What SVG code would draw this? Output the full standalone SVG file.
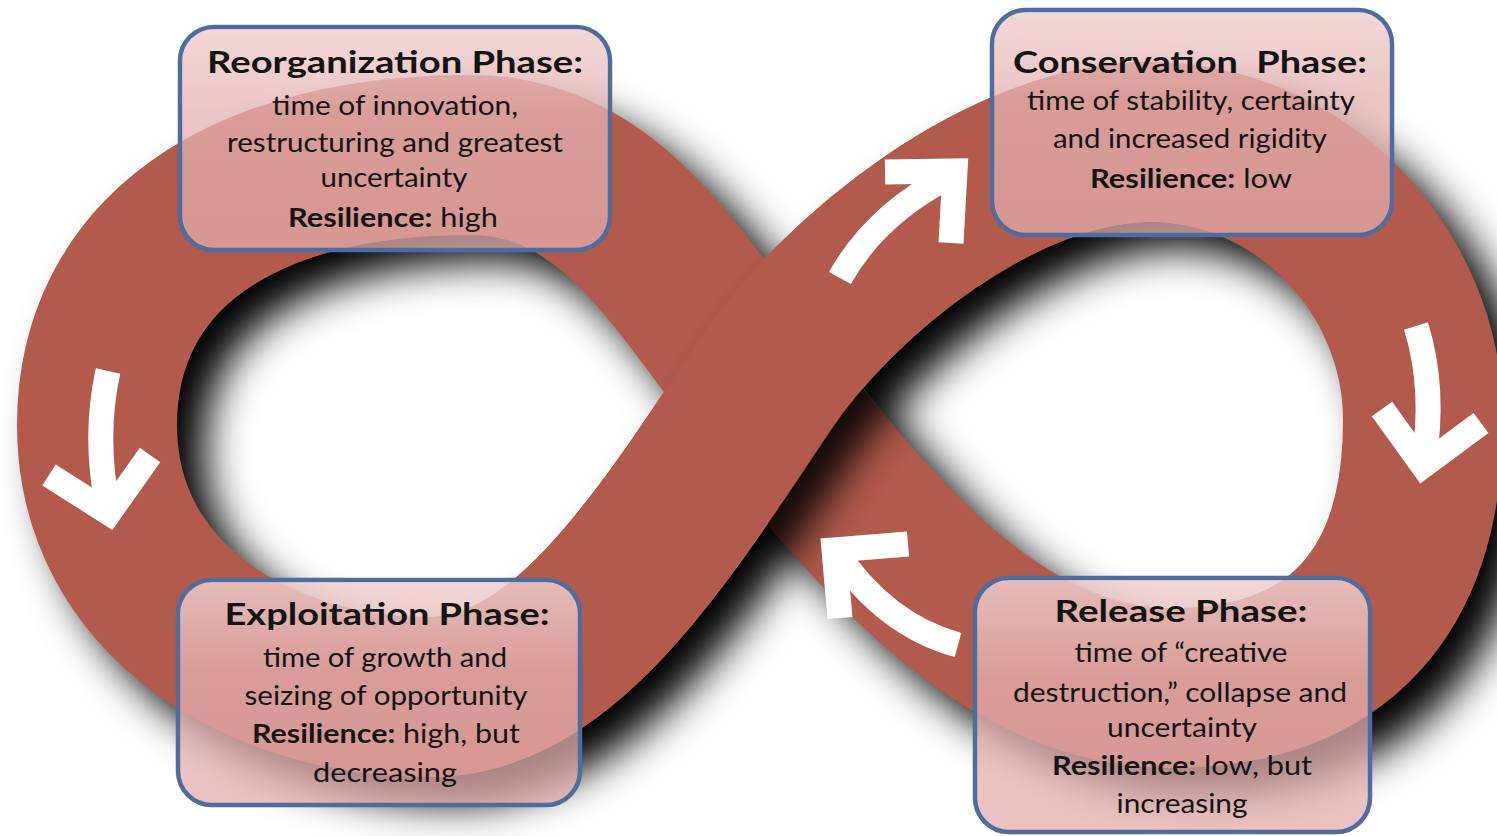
<svg xmlns="http://www.w3.org/2000/svg" width="1497" height="836" viewBox="0 0 1497 836">
<style>
.band{fill:none;stroke:#B25A4C;stroke-width:160;stroke-linejoin:round}
.box{fill:#E4ADAD;fill-opacity:0.74;stroke:#4E6C9E;stroke-width:4.5}
.gloss{fill:url(#gloss)}
text{font-family:Lato,"Liberation Sans",sans-serif;fill:#141414;text-anchor:middle}
.t{font-size:30px;font-weight:700}
.b{font-size:26px}
.bold{font-weight:700}
.arrow{fill:none;stroke:#fff;stroke-width:25;stroke-linejoin:miter;stroke-miterlimit:10}
</style>
<defs>
<path id="loopPath" d="M762 389 C839 273 1005 142 1150 142 C1300 142 1423 270 1423 420 C1423 590 1340 688 1170 688 C990 688 855 507.5 762 389 C675 278.4 610 155 470 155 C240 155 97 255 97 425 C97 600 260 697 430 697 C560 697 657.5 546.7 762 389 Z"/>
<path id="frontPath" d="M430 697 C560 697 657.5 546.7 762 389 C839 273 1005 142 1150 142"/>
<path id="backPath" d="M1170 688 C990 688 855 507.5 762 389 C675 278.4 610 155 470 155"/>
<filter id="dropShadow" filterUnits="userSpaceOnUse" x="-100" y="-100" width="1700" height="1050" color-interpolation-filters="sRGB">
<feGaussianBlur in="SourceAlpha" stdDeviation="21"/>
<feOffset dx="28" dy="26"/>
<feComponentTransfer><feFuncA type="linear" slope="1"/></feComponentTransfer>
<feMerge><feMergeNode/><feMergeNode in="SourceGraphic"/></feMerge>
</filter>
<filter id="castShadow" filterUnits="userSpaceOnUse" x="-100" y="-100" width="1700" height="1050" color-interpolation-filters="sRGB">
<feGaussianBlur in="SourceAlpha" stdDeviation="19"/>
<feOffset dx="26" dy="24"/>
<feComponentTransfer><feFuncA type="linear" slope="0.9"/></feComponentTransfer>
</filter>
<mask id="backMask" maskUnits="userSpaceOnUse" x="0" y="0" width="1497" height="836">
<use href="#backPath" fill="none" stroke="#fff" stroke-width="160"/>
</mask>
<linearGradient id="gloss" x1="0" y1="0" x2="0" y2="1">
<stop offset="0" stop-color="#fff" stop-opacity="0.35"/>
<stop offset="0.4" stop-color="#fff" stop-opacity="0.05"/>
<stop offset="1" stop-color="#fff" stop-opacity="0"/>
</linearGradient>
</defs>
<rect width="1497" height="836" fill="#fff"/>
<g id="band">
<use href="#loopPath" class="band" filter="url(#dropShadow)"/>
<g mask="url(#backMask)"><use href="#frontPath" class="band" filter="url(#castShadow)"/></g>
<use href="#frontPath" class="band"/>
</g>
<g id="connectors">
<g id="arrow-left"><path class="arrow" d="M108 371 Q93 440 109 512"/><path class="arrow" d="M49 475 L109 513 L150 455"/></g>
<g id="arrow-top"><path class="arrow" d="M840 278 Q875 215 950 176"/><path class="arrow" d="M885 172 L955 171 L951 243"/></g>
<g id="arrow-right"><path class="arrow" d="M1416 326 Q1436 390 1423 466"/><path class="arrow" d="M1382 409 L1423 466 L1481 423"/></g>
<g id="arrow-bottom"><path class="arrow" d="M958 645 Q885 625 836 552"/><path class="arrow" d="M908 544 L834 550 L840 618"/></g>
</g>
<g id="reorganization">
<rect class="box" x="180" y="27" width="430" height="223" rx="34"/>
<rect class="gloss" x="182" y="29" width="426" height="219" rx="32"/>
<text class="t" x="395" y="73" textLength="376" lengthAdjust="spacingAndGlyphs">Reorganization Phase:</text>
<text class="b" x="395" y="115" textLength="246" lengthAdjust="spacingAndGlyphs">time of innovation,</text>
<text class="b" x="395" y="152" textLength="336" lengthAdjust="spacingAndGlyphs">restructuring and greatest</text>
<text class="b" x="394" y="187" textLength="147" lengthAdjust="spacingAndGlyphs">uncertainty</text>
<text class="b" x="393" y="227" textLength="210" lengthAdjust="spacingAndGlyphs"><tspan class="bold">Resilience:</tspan> high</text>
</g>
<g id="conservation">
<rect class="box" x="992" y="10" width="400" height="225" rx="34"/>
<rect class="gloss" x="994" y="12" width="396" height="221" rx="32"/>
<text class="t" x="1190" y="73" textLength="354" lengthAdjust="spacingAndGlyphs" xml:space="preserve">Conservation  Phase:</text>
<text class="b" x="1191" y="110" textLength="328" lengthAdjust="spacingAndGlyphs">time of stability, certainty</text>
<text class="b" x="1190" y="148" textLength="274" lengthAdjust="spacingAndGlyphs">and increased rigidity</text>
<text class="b" x="1191" y="188" textLength="202" lengthAdjust="spacingAndGlyphs"><tspan class="bold">Resilience:</tspan> low</text>
</g>
<g id="exploitation">
<rect class="box" x="178" y="580" width="402" height="225" rx="34"/>
<rect class="gloss" x="180" y="582" width="398" height="221" rx="32"/>
<text class="t" x="387" y="625" textLength="325" lengthAdjust="spacingAndGlyphs">Exploitation Phase:</text>
<text class="b" x="385" y="667" textLength="244" lengthAdjust="spacingAndGlyphs">time of growth and</text>
<text class="b" x="386" y="705" textLength="283" lengthAdjust="spacingAndGlyphs">seizing of opportunity</text>
<text class="b" x="386" y="743" textLength="268" lengthAdjust="spacingAndGlyphs"><tspan class="bold">Resilience:</tspan> high, but</text>
<text class="b" x="385" y="782" textLength="144" lengthAdjust="spacingAndGlyphs">decreasing</text>
</g>
<g id="release">
<rect class="box" x="975" y="578" width="395" height="254" rx="34"/>
<rect class="gloss" x="977" y="580" width="391" height="250" rx="32"/>
<text class="t" x="1181" y="622" textLength="253" lengthAdjust="spacingAndGlyphs">Release Phase:</text>
<text class="b" x="1181" y="662" textLength="213" lengthAdjust="spacingAndGlyphs">time of “creative</text>
<text class="b" x="1180" y="702" textLength="334" lengthAdjust="spacingAndGlyphs">destruction,” collapse and</text>
<text class="b" x="1182" y="737" textLength="150" lengthAdjust="spacingAndGlyphs">uncertainty</text>
<text class="b" x="1182" y="775" textLength="260" lengthAdjust="spacingAndGlyphs"><tspan class="bold">Resilience:</tspan> low, but</text>
<text class="b" x="1182" y="813" textLength="131" lengthAdjust="spacingAndGlyphs">increasing</text>
</g>
</svg>
